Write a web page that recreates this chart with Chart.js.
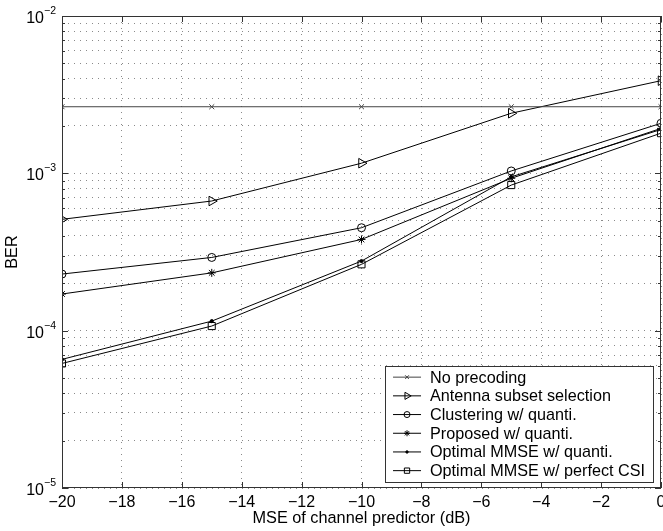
<!DOCTYPE html>
<html lang="en">
<head>
    <meta charset="UTF-8">
    <title>BER vs MSE of channel predictor</title>
    <style>
        body {
            margin: 0;
            padding: 0;
            background: #ffffff;
        }
        #berChart {
            display: block;
        }
    </style>
    <script src="https://cdn.jsdelivr.net/npm/chart.js"></script>
</head>
<body>
    <canvas id="berChart" width="663" height="531"></canvas>

    <script>
        // values
        const xValues = [-20, -15, -10, -5, 0];
        const noPrecoding = [2.65e-3, 2.65e-3, 2.65e-3, 2.65e-3, 2.65e-3];
        const antennaSubset = [5.1e-4, 6.67e-4, 1.16e-3, 2.41e-3, 3.88e-3];
        const clustering = [2.29e-4, 2.92e-4, 4.51e-4, 1.035e-3, 2.08e-3];
        const proposed = [1.71e-4, 2.33e-4, 3.8e-4, 9.3e-4, 1.93e-3];
        const mmseQuanti = [6.57e-5, 1.15e-4, 2.77e-4, 9.5e-4, 1.9e-3];
        const mmsePerfect = [6.19e-5, 1.07e-4, 2.64e-4, 8.42e-4, 1.8e-3];

        const seriesLabels = [
            'No precoding',
            'Antenna subset selection',
            'Clustering w/ quanti.',
            'Proposed w/ quanti.',
            'Optimal MMSE w/ quanti.',
            'Optimal MMSE w/ perfect CSI'
        ];

        const xTicks = [-20, -18, -16, -14, -12, -10, -8, -6, -4, -2, 0];
        const xTickLabels = ['\u221220', '\u221218', '\u221216', '\u221214', '\u221212', '\u221210', '\u22128', '\u22126', '\u22124', '\u22122', '0'];
        const yDecades = [1e-5, 1e-4, 1e-3, 1e-2];
        const yExponents = ['\u22125', '\u22124', '\u22123', '\u22122'];
        const yMantissas = [1, 2, 3, 4, 5, 6, 7, 8, 9];

        const xTitle = 'MSE of channel predictor (dB)';
        const yTitle = 'BER';

        const FONT = '"Liberation Sans", Arial, Helvetica, sans-serif';

        // every minor/major position of the log axis gets a dotted grid line
        const yGridValues = [];
        yDecades.slice(0, 3).forEach(d => yMantissas.forEach(m => yGridValues.push(m * d)));
        yGridValues.push(yDecades[3]);

        function toPoints(values) {
            return values.map((v, i) => ({ x: xValues[i], y: v }));
        }

        const markerStyles = [
            { style: 'crossRot', radius: 3.5, rotation: 0, fill: 'rgba(0,0,0,0)', color: '#444', width: 1 },
            { style: 'triangle', radius: 5.5, rotation: 90, fill: 'rgba(0,0,0,0)', color: '#000', width: 1 },
            { style: 'circle', radius: 4, rotation: 0, fill: 'rgba(0,0,0,0)', color: '#000', width: 1 },
            { style: 'star', radius: 4, rotation: 0, fill: 'rgba(0,0,0,0)', color: '#000', width: 1 },
            { style: 'circle', radius: 1.6, rotation: 0, fill: '#000', color: '#000', width: 1 },
            { style: 'rect', radius: 5, rotation: 0, fill: 'rgba(0,0,0,0)', color: '#000', width: 1 }
        ];

        const seriesData = [noPrecoding, antennaSubset, clustering, proposed, mmseQuanti, mmsePerfect];

        const datasets = seriesData.map((values, i) => ({
            label: seriesLabels[i],
            data: toPoints(values),
            borderColor: markerStyles[i].color,
            borderWidth: markerStyles[i].width,
            pointStyle: markerStyles[i].style,
            pointRadius: markerStyles[i].radius,
            pointRotation: markerStyles[i].rotation,
            pointBackgroundColor: markerStyles[i].fill,
            pointBorderColor: markerStyles[i].color,
            pointBorderWidth: 1,
            fill: false,
            tension: 0
        }));

        // small marker painter for the legend samples
        function drawMarker(ctx, style, x, y, r, rotation, fillColor) {
            ctx.beginPath();
            if (style === 'crossRot' || style === 'star') {
                const d = r * Math.SQRT1_2;
                ctx.moveTo(x - d, y - d); ctx.lineTo(x + d, y + d);
                ctx.moveTo(x - d, y + d); ctx.lineTo(x + d, y - d);
                if (style === 'star') {
                    ctx.moveTo(x - r, y); ctx.lineTo(x + r, y);
                    ctx.moveTo(x, y - r); ctx.lineTo(x, y + r);
                }
                ctx.stroke();
            } else if (style === 'triangle') {
                const a = rotation * Math.PI / 180;
                for (let k = 0; k < 3; k++) {
                    const t = a - Math.PI / 2 + k * 2 * Math.PI / 3;
                    const px = x + r * Math.cos(t);
                    const py = y + r * Math.sin(t);
                    if (k === 0) ctx.moveTo(px, py); else ctx.lineTo(px, py);
                }
                ctx.closePath();
                ctx.stroke();
            } else if (style === 'circle') {
                ctx.arc(x, y, r, 0, Math.PI * 2);
                if (fillColor !== 'rgba(0,0,0,0)') { ctx.fillStyle = fillColor; ctx.fill(); }
                ctx.stroke();
            } else if (style === 'rect') {
                const s = r * Math.SQRT1_2;
                ctx.rect(x - s, y - s, 2 * s, 2 * s);
                ctx.stroke();
            }
        }

        const matlabFrame = {
            id: 'matlabFrame',
            afterDraw(chart) {
                const ctx = chart.ctx;
                const area = chart.chartArea;
                const xs = chart.scales.x;
                const ys = chart.scales.y;
                ctx.save();

                // frame and inward ticks
                ctx.strokeStyle = '#333';
                ctx.lineWidth = 1;
                ctx.strokeRect(area.left + 0.5, area.top + 0.5, area.right - area.left - 1, area.bottom - area.top - 1);
                ctx.beginPath();
                xTicks.forEach(v => {
                    const px = Math.round(xs.getPixelForValue(v)) + 0.5;
                    ctx.moveTo(px, area.bottom); ctx.lineTo(px, area.bottom - 6);
                    ctx.moveTo(px, area.top); ctx.lineTo(px, area.top + 6);
                });
                yGridValues.forEach(v => {
                    const py = Math.round(ys.getPixelForValue(v)) + 0.5;
                    const len = yDecades.includes(v) ? 6 : 3;
                    ctx.moveTo(area.left, py); ctx.lineTo(area.left + len, py);
                    ctx.moveTo(area.right, py); ctx.lineTo(area.right - len, py);
                });
                ctx.stroke();

                // x tick labels
                ctx.fillStyle = '#000';
                ctx.font = '16px ' + FONT;
                ctx.textAlign = 'center';
                ctx.textBaseline = 'alphabetic';
                xTicks.forEach((v, i) => {
                    ctx.fillText(xTickLabels[i], xs.getPixelForValue(v), area.bottom + 19);
                });

                // y tick labels, 10 with a raised exponent
                yDecades.forEach((v, i) => {
                    const py = ys.getPixelForValue(v);
                    ctx.font = '16px ' + FONT;
                    ctx.textAlign = 'right';
                    ctx.fillText('10', area.left - 18, py + 7);
                    ctx.font = '10.5px ' + FONT;
                    ctx.textAlign = 'left';
                    ctx.fillText(yExponents[i], area.left - 18, py - 2);
                });

                // axis titles
                ctx.font = '16.3px ' + FONT;
                ctx.textAlign = 'center';
                ctx.fillText(xTitle, (area.left + area.right) / 2, area.bottom + 35);
                ctx.save();
                ctx.translate(17, (area.top + area.bottom) / 2);
                ctx.rotate(-Math.PI / 2);
                ctx.fillText(yTitle, 0, 0);
                ctx.restore();

                // legend box inside the lower right corner
                ctx.font = '16.2px ' + FONT;
                const rowH = 18.7;
                const textW = Math.max(...seriesLabels.map(s => ctx.measureText(s).width));
                const boxRight = area.right - 8;
                const boxBottom = area.bottom - 6;
                const boxLeft = boxRight - (45 + textW + 8);
                const boxTop = boxBottom - (rowH * seriesLabels.length + 4);
                ctx.fillStyle = '#fff';
                ctx.fillRect(boxLeft, boxTop, boxRight - boxLeft, boxBottom - boxTop);
                ctx.strokeStyle = '#333';
                ctx.strokeRect(Math.round(boxLeft) + 0.5, Math.round(boxTop) + 0.5, Math.round(boxRight - boxLeft), Math.round(boxBottom - boxTop));
                seriesLabels.forEach((label, i) => {
                    const cy = boxTop + 2 + rowH * (i + 0.5);
                    const m = markerStyles[i];
                    ctx.strokeStyle = m.color;
                    ctx.lineWidth = 1;
                    ctx.beginPath();
                    ctx.moveTo(boxLeft + 8, cy); ctx.lineTo(boxLeft + 36, cy);
                    ctx.stroke();
                    drawMarker(ctx, m.style, boxLeft + 22, cy, m.radius * 0.75, m.rotation, m.fill);
                    ctx.fillStyle = '#000';
                    ctx.textAlign = 'left';
                    ctx.textBaseline = 'middle';
                    ctx.fillText(label, boxLeft + 45, cy + 1);
                });
                ctx.restore();
            }
        };

        new Chart(document.getElementById('berChart'), {
            type: 'line',
            data: { datasets: datasets },
            options: {
                responsive: false,
                devicePixelRatio: 1,
                animation: false,
                layout: { autoPadding: false, padding: { left: 62, top: 16, right: 2, bottom: 43 } },
                plugins: {
                    legend: { display: false },
                    tooltip: { enabled: false }
                },
                scales: {
                    x: {
                        type: 'linear',
                        min: -20,
                        max: 0,
                        afterBuildTicks: scale => { scale.ticks = xTicks.map(v => ({ value: v })); },
                        ticks: { display: false },
                        grid: { color: '#8a8a8a', lineWidth: 1, drawTicks: false },
                        border: { display: false, dash: [1, 5] }
                    },
                    y: {
                        type: 'logarithmic',
                        min: 1e-5,
                        max: 1e-2,
                        afterBuildTicks: scale => { scale.ticks = yGridValues.map(v => ({ value: v })); },
                        ticks: { display: false },
                        grid: { color: '#8a8a8a', lineWidth: 1, drawTicks: false },
                        border: { display: false, dash: [1, 5] }
                    }
                }
            },
            plugins: [matlabFrame]
        });
    </script>
</body>
</html>
